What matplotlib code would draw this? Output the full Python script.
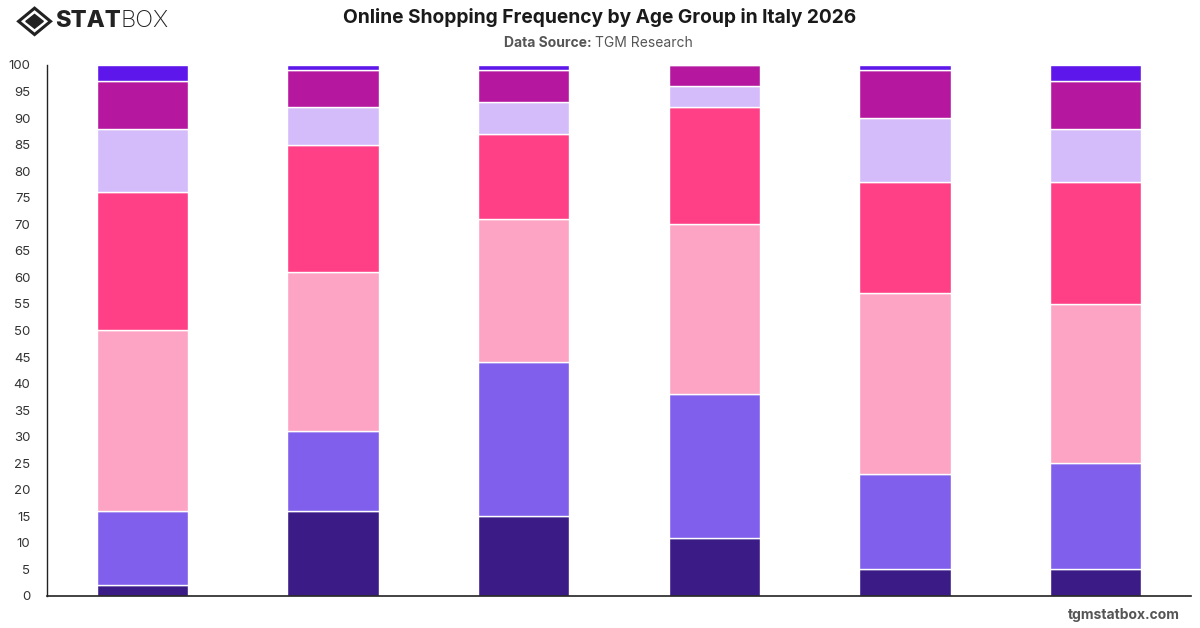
import matplotlib
matplotlib.use("Agg")
import matplotlib.pyplot as plt
from matplotlib.patches import Polygon
import numpy as np

plt.rcParams['font.family'] = ['Inter', 'DejaVu Sans']

# data (percent of each age group)
age_groups = ['Group 1', 'Group 2', 'Group 3', 'Group 4', 'Group 5', 'Group 6']
seg_1 = [2, 16, 15, 11, 5, 5]
seg_2 = [14, 15, 29, 27, 18, 20]
seg_3 = [34, 30, 27, 32, 34, 30]
seg_4 = [26, 24, 16, 22, 21, 23]
seg_5 = [12, 7, 6, 4, 12, 10]
seg_6 = [9, 7, 6, 4, 9, 9]
seg_7 = [3, 1, 1, 0, 1, 3]

series = [seg_1, seg_2, seg_3, seg_4, seg_5, seg_6, seg_7]
colors = ['#3B1C87', '#7F5FEB', '#FDA4C4', '#FF4086', '#D4BBFA', '#B5189E', '#5E17EB']

fig = plt.figure(figsize=(12, 6.28), dpi=100)
ax = fig.add_axes([0.0393, 0.051, 0.953, 0.8455])

x = np.arange(len(age_groups))
bottom = np.zeros(len(age_groups))
for vals, col in zip(series, colors):
    ax.bar(x, vals, width=0.48, bottom=bottom, color=col,
           edgecolor='white', linewidth=1)
    bottom += np.array(vals)

ax.set_xlim(-0.5, len(age_groups) - 0.5)
ax.set_ylim(0, 100)
ax.set_yticks(range(0, 101, 5))
ax.set_xticks([])
ax.tick_params(axis='y', length=0, labelsize=9.5, labelcolor='#333333', pad=12)
for s in ['top', 'right']:
    ax.spines[s].set_visible(False)
ax.spines['left'].set_color('#222222')
ax.spines['bottom'].set_color('#222222')
ax.spines['left'].set_linewidth(1)
ax.spines['bottom'].set_linewidth(1.2)

# title block
fig.text(0.5, 0.972, 'Online Shopping Frequency by Age Group in Italy 2026',
         ha='center', va='center', fontsize=13.8, fontweight='bold', color='#1a1a1a')
fig.text(0.4955, 0.931, 'Data Source: ', ha='right', va='center', fontsize=10,
         fontweight='bold', color='#555555')
fig.text(0.4955, 0.931, 'TGM Research', ha='left', va='center', fontsize=10,
         color='#555555')

# logo
outer = Polygon([[0.0155, 0.966], [0.0288, 0.987], [0.0421, 0.966], [0.0288, 0.945]],
                closed=True, fill=False, edgecolor='#222222', linewidth=2.2,
                transform=fig.transFigure)
inner = Polygon([[0.0215, 0.966], [0.0288, 0.977], [0.0361, 0.966], [0.0288, 0.955]],
                closed=True, color='#222222', transform=fig.transFigure)
fig.patches.extend([outer, inner])
stat = fig.text(0.046, 0.966, 'STAT', ha='left', va='center', fontsize=17,
                fontweight='heavy', color='#222222')
fig.canvas.draw()
bb = stat.get_window_extent().transformed(fig.transFigure.inverted())
fig.text(bb.x1, 0.966, 'BOX', ha='left', va='center', fontsize=17,
         fontweight='light', color='#222222')

# footer
fig.text(0.983, 0.021, 'tgmstatbox.com', ha='right', va='center', fontsize=10,
         fontweight='bold', color='#555555')

fig.savefig('out.png', dpi=100)
